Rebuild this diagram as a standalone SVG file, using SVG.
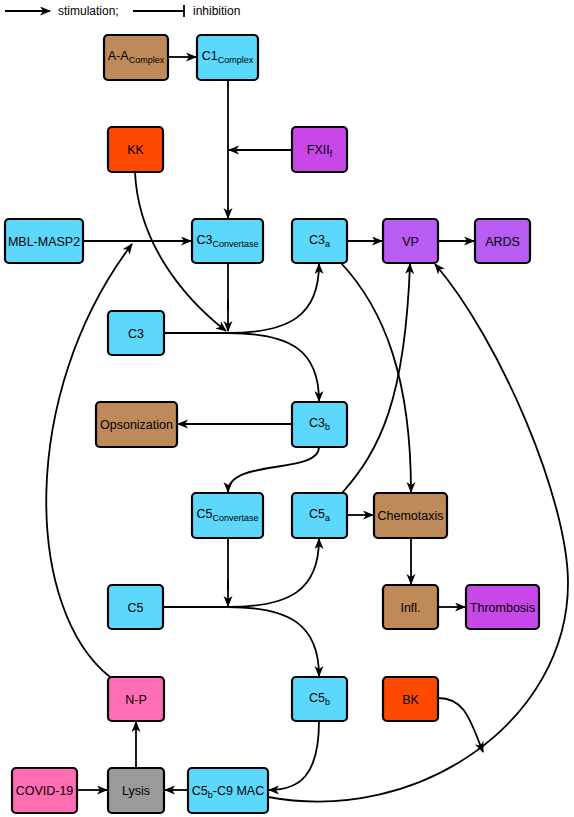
<svg xmlns="http://www.w3.org/2000/svg" width="574" height="817" viewBox="0 0 574 817">
<defs>
<marker id="arr" markerUnits="userSpaceOnUse" markerWidth="12" markerHeight="10" refX="10" refY="4.5" orient="auto">
<path d="M0,0 L11,4.5 L0,9 L3,4.5 z" fill="#000"/>
</marker>
<style>
.n rect{stroke:#000;stroke-width:2.2;rx:4;ry:4}
.n text,.t{font-family:"Liberation Sans",Arial,sans-serif;font-size:12.5px;fill:#000;text-anchor:middle}
.t{font-size:12px}
.s{font-size:9px}
.cy{fill:#5bd8fc}.br{fill:#bf8a59}.rd{fill:#ff4800}.pu{fill:#b85cf4}.pk{fill:#c847e8}.pi{fill:#ff6db4}.gr{fill:#9a9a9a}
#edges path{fill:none;stroke:#000;stroke-width:1.8}
.a{marker-end:url(#arr)}
</style>
</defs>
<rect width="574" height="817" fill="#fff"/>
<g id="legend">
<path d="M5,11 H50" stroke="#000" stroke-width="1.8" marker-end="url(#arr)"/>
<text class="t" x="58" y="15" style="text-anchor:start">stimulation;</text>
<path d="M133,11 H184 M184,5 V17" stroke="#000" stroke-width="1.8" fill="none"/>
<text class="t" x="193" y="15" style="text-anchor:start">inhibition</text>
</g>
<g id="edges">
<path class="a" d="M168,57 H196"/>
<path class="a" d="M228,80 V218"/>
<path class="a" d="M292,150 H229"/>
<path class="a" d="M83,241 H191"/>
<path class="a" d="M347,241 H382"/>
<path class="a" d="M438,241 H474"/>
<path d="M228,263 V310"/>
<path class="a" d="M228,300 V331"/>
<path class="a" d="M135,172 C138,240 180,295 226,331"/>
<path d="M164,333 H228"/>
<path class="a" d="M228,333 C290,333 319,315 319,264"/>
<path class="a" d="M228,333 C290,333 319,350 319,401"/>
<path class="a" d="M292,424 H178"/>
<path class="a" d="M319,447 C319,475 228,458 228,492"/>
<path class="a" d="M341,263 C385,310 411,380 411,492"/>
<path class="a" d="M342,493 C380,450 405,400 410,264"/>
<path class="a" d="M347,515 H373"/>
<path class="a" d="M411,538 V584"/>
<path class="a" d="M438,607 H465"/>
<path d="M228,538 V590"/>
<path class="a" d="M228,580 V606"/>
<path d="M163,607 H228"/>
<path class="a" d="M228,607 C290,607 319,590 319,539"/>
<path class="a" d="M228,607 C290,607 319,625 319,676"/>
<path class="a" d="M319,721 C319,775 300,790 269,790"/>
<path class="a" d="M188,790 H165"/>
<path class="a" d="M77,790 H107"/>
<path class="a" d="M136,768 V722"/>
<path class="a" d="M110,677 C25,610 18,395 132,244"/>
<path class="a" d="M268,797 C420,825 568,720 568,583 C568,500 500,340 435,264"/>
<path class="a" d="M438,698 C465,698 470,720 483,752"/>
</g>
<g id="AA" class="n"><rect class="br" x="104" y="35" width="64" height="45"/><text x="136" y="60">A-A<tspan class="s" dy="3">Complex</tspan></text></g>
<g id="C1" class="n"><rect class="cy" x="197" y="35" width="61" height="45"/><text x="227.5" y="60">C1<tspan class="s" dy="3">Complex</tspan></text></g>
<g id="KK" class="n"><rect class="rd" x="108" y="127" width="55" height="45"/><text x="135.5" y="154">KK</text></g>
<g id="FXIIf" class="n"><rect class="pk" x="292" y="127" width="55" height="45"/><text x="319.5" y="154">FXII<tspan class="s" dy="3">f</tspan></text></g>
<g id="MBL" class="n"><rect class="cy" x="5" y="219" width="78" height="44"/><text x="44" y="245.5">MBL-MASP2</text></g>
<g id="C3conv" class="n"><rect class="cy" x="192" y="219" width="71" height="44"/><text x="227.5" y="244">C3<tspan class="s" dy="3">Convertase</tspan></text></g>
<g id="C3a" class="n"><rect class="cy" x="292" y="219" width="55" height="44"/><text x="319.5" y="244">C3<tspan class="s" dy="3">a</tspan></text></g>
<g id="VP" class="n"><rect class="pu" x="383" y="219" width="55" height="44"/><text x="410.5" y="245.5">VP</text></g>
<g id="ARDS" class="n"><rect class="pu" x="475" y="219" width="55" height="44"/><text x="502.5" y="245.5">ARDS</text></g>
<g id="C3" class="n"><rect class="cy" x="108" y="311" width="56" height="44"/><text x="136" y="337.5">C3</text></g>
<g id="Opson" class="n"><rect class="br" x="96" y="402" width="81" height="45"/><text x="136.5" y="428.5">Opsonization</text></g>
<g id="C3b" class="n"><rect class="cy" x="292" y="402" width="55" height="45"/><text x="319.5" y="427">C3<tspan class="s" dy="3">b</tspan></text></g>
<g id="C5conv" class="n"><rect class="cy" x="192" y="493" width="71" height="45"/><text x="227.5" y="518">C5<tspan class="s" dy="3">Convertase</tspan></text></g>
<g id="C5a" class="n"><rect class="cy" x="292" y="493" width="55" height="45"/><text x="319.5" y="518">C5<tspan class="s" dy="3">a</tspan></text></g>
<g id="Chemo" class="n"><rect class="br" x="374" y="493" width="73" height="45"/><text x="410.5" y="519.5">Chemotaxis</text></g>
<g id="C5" class="n"><rect class="cy" x="108" y="585" width="55" height="44"/><text x="135.5" y="611.5">C5</text></g>
<g id="Infl" class="n"><rect class="br" x="383" y="585" width="55" height="44"/><text x="410.5" y="611.5">Infl.</text></g>
<g id="Thromb" class="n"><rect class="pk" x="466" y="585" width="73" height="44"/><text x="502.5" y="611.5">Thrombosis</text></g>
<g id="NP" class="n"><rect class="pi" x="108" y="677" width="56" height="44"/><text x="136" y="703.5">N-P</text></g>
<g id="C5b" class="n"><rect class="cy" x="292" y="677" width="55" height="44"/><text x="319.5" y="702">C5<tspan class="s" dy="3">b</tspan></text></g>
<g id="BK" class="n"><rect class="rd" x="383" y="677" width="55" height="44"/><text x="410.5" y="703.5">BK</text></g>
<g id="COVID" class="n"><rect class="pi" x="12" y="768" width="65" height="45"/><text x="44.5" y="794.5">COVID-19</text></g>
<g id="Lysis" class="n"><rect class="gr" x="108" y="768" width="56" height="45"/><text x="136" y="794.5">Lysis</text></g>
<g id="MAC" class="n"><rect class="cy" x="188" y="768" width="80" height="45"/><text x="228" y="794.5">C5<tspan class="s" dy="3">b</tspan><tspan dy="-3">-C9 MAC</tspan></text></g>
</svg>
